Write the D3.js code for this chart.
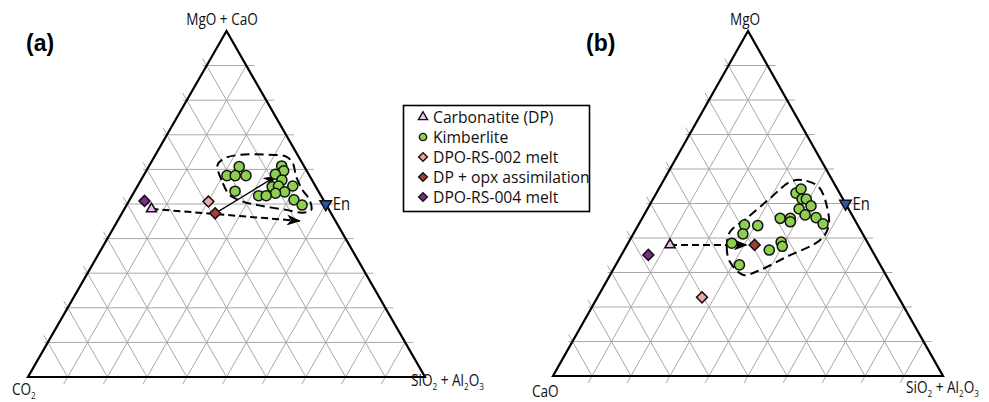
<!DOCTYPE html>
<html lang="en">
<head>
<meta charset="UTF-8">
<title>Ternary plots</title>
<style>
  body { margin: 0; background: #fff; }
  svg { display: block; font-family: "Open Sans", sans-serif; }
</style>
</head>
<body>
<div id="chart"></div>
<script src="https://d3js.org/d3.v7.min.js"></script>
<script>
const width = 989, height = 402;

// all compositions in percent, ordered [top, left, right]
// (a): top = MgO + CaO, left = CO2, right = SiO2 + Al2O3
const kimberliteA = [
  [60.8, 16.4, 22.8], [58.2, 20.8, 21.0], [58.2, 18.7, 23.1], [58.2, 16.0, 25.8],
  [53.7, 21.0, 25.3], [61.0, 5.6, 33.4], [59.6, 5.8, 34.6], [58.6, 8.4, 33.0],
  [56.9, 7.6, 35.5], [55.0, 11.0, 34.0], [55.2, 9.3, 35.5], [55.2, 5.7, 39.1],
  [53.5, 8.6, 37.9], [53.1, 11.1, 35.8], [52.4, 15.7, 31.9], [52.4, 13.8, 33.8],
  [51.2, 7.4, 41.4], [49.7, 6.1, 44.2]
];
const carbonatiteA = [[48.6, 44.6, 6.8]];
const rs002A = [[50.7, 29.2, 20.1]];
const opxA = [[47.3, 29.2, 23.5]];
const rs004A = [[50.9, 45.2, 3.9]];
const enstatiteA = [[50, 0, 50]];
const envelopeA = [
  [61.3, 21.6, 17.1], [56.0, 22.9, 21.1], [52.6, 22.9, 24.5], [50.7, 20.5, 28.8],
  [49.4, 16.2, 34.4], [48.3, 10.8, 40.9], [47.5, 7.0, 45.5], [48.3, 4.5, 47.2],
  [51.2, 3.5, 45.3], [54.0, 3.8, 42.2], [57.9, 3.5, 38.6], [61.8, 2.4, 35.8],
  [63.7, 3.1, 33.2], [64.2, 7.1, 28.7], [64.2, 14.6, 21.2], [63.2, 18.9, 17.9]
];
const arrowsA = [
  { from: [48.6, 44.6, 6.8], to: [45.1, 9.0, 45.9], dashed: true },
  { from: [47.3, 29.2, 23.5], to: [58.1, 8.4, 33.5], dashed: false }
];

// (b): top = MgO, left = CaO, right = SiO2 + Al2O3
const kimberliteB = [
  [53.0, 11.2, 35.8], [54.2, 9.3, 36.5], [51.3, 10.5, 38.2], [51.3, 9.4, 39.3],
  [49.3, 9.2, 41.5], [48.4, 12.7, 38.9], [46.7, 12.0, 41.3], [45.9, 9.6, 44.5],
  [44.1, 8.7, 47.2], [45.7, 18.9, 35.4], [45.7, 16.3, 38.0], [44.7, 16.8, 38.5],
  [43.8, 29.0, 27.2], [43.6, 25.7, 30.7], [41.2, 30.7, 28.1], [38.5, 34.9, 26.6],
  [36.5, 26.3, 37.2], [38.8, 22.1, 39.1], [37.6, 22.4, 40.0], [32.2, 36.1, 31.7]
];
const carbonatiteB = [[38.0, 51.0, 11.0]];
const rs002B = [[22.8, 50.4, 26.8]];
const opxB = [[38.0, 29.3, 32.7]];
const rs004B = [[35.1, 58.0, 6.9]];
const enstatiteB = [[50, 0, 50]];
const envelopeB = [
  [41.8, 33.7, 24.5], [37.5, 36.7, 25.8], [33.1, 38.1, 28.8], [29.3, 36.5, 34.2],
  [30.7, 31.6, 37.7], [34.6, 22.7, 42.7], [39.4, 11.8, 48.8], [43.3, 7.7, 49.0],
  [49.1, 5.2, 45.7], [54.9, 4.5, 40.6], [56.8, 7.8, 35.4], [56.3, 11.0, 32.7],
  [51.5, 18.6, 29.9], [45.7, 27.5, 26.8]
];
const arrowsB = [
  { from: [38.0, 51.0, 11.0], to: [38.0, 31.3, 30.7], dashed: true }
];

const legendNames = ["Carbonatite (DP)", "Kimberlite", "DPO-RS-002 melt", "DP + opx assimilation", "DPO-RS-004 melt"];
const gridTicks = d3.range(10, 100, 10);

const colors = {
  carb: "#efbdf0", kimb: "#8dd04f", rs002: "#f4a4a0", opx: "#a23f3a", rs004: "#7d2a8b", en: "#2b54ad"
};

const svg = d3.select("#chart")
  .append("svg")
  .attr("width", width)
  .attr("height", height)
  .attr("viewBox", [0, 0, width, height]);

const defs = svg.append("defs");
defs.append("marker")
  .attr("id", "head")
  .attr("viewBox", "0 0 14 11")
  .attr("refX", 13)
  .attr("refY", 5.5)
  .attr("markerWidth", 14)
  .attr("markerHeight", 11)
  .attr("markerUnits", "userSpaceOnUse")
  .attr("orient", "auto")
  .append("path")
  .attr("d", "M0,0L14,5.5L0,11L4,5.5Z")
  .attr("fill", "#000");

const sym = {
  circle: d3.symbol(d3.symbolCircle, 80)(),
  diamond: d3.symbol(d3.symbolSquare, 60)(),
  tri: d3.symbol(d3.symbolTriangle, 44)(),
  en: d3.symbol(d3.symbolTriangle, 58)(),
};

function makeProjection(frame) {
  const x = d3.scaleLinear().domain([0, 100]).range([frame.x0, frame.x1]);
  const y = d3.scaleLinear().domain([0, 100]).range([frame.base, frame.apex]);
  return d => [x(d[2] + d[0] / 2), y(d[0])];
}

// pushes a segment out by e0 px at its start and e1 px at its end
function extend(a, b, e0, e1) {
  const dx = b[0] - a[0], dy = b[1] - a[1];
  const len = Math.hypot(dx, dy);
  const ux = dx / len, uy = dy / len;
  return [[a[0] - ux * e0, a[1] - uy * e0], [b[0] + ux * e1, b[1] + uy * e1]];
}

// axis label, odd parts are subscripts; squeezed a bit to look like a condensed face
function richText(g, x, y, parts, size, anchor) {
  const t = g.append("g")
    .attr("transform", `translate(${x},${y}) scale(0.85,1)`)
    .append("text")
    .attr("font-size", size)
    .attr("text-anchor", anchor || "start")
    .attr("fill", "#111");
  parts.forEach((s, i) => {
    if (!s) return;
    const sub = i % 2 === 1;
    t.append("tspan")
      .attr("font-size", sub ? size * 0.6 : size)
      .attr("dy", i === 0 ? 0 : (sub ? 4 : -4))
      .text(s);
  });
  return t;
}

function drawPoints(g, p, data, shape, fill, rotate) {
  g.append("g")
    .selectAll("path")
    .data(data)
    .join("path")
    .attr("d", sym[shape])
    .attr("transform", d => `translate(${p(d)}) rotate(${rotate || 0})`)
    .attr("fill", fill)
    .attr("stroke", "#111")
    .attr("stroke-width", 1.5);
}

function drawTernary(frame, set) {
  const p = makeProjection(frame);
  const g = svg.append("g");
  const line = d3.line();

  // grid
  const grid = [];
  gridTicks.forEach(k => {
    grid.push(extend(p([k, 100 - k, 0]), p([k, 0, 100 - k]), 4, 8));
    grid.push(extend(p([100 - k, k, 0]), p([0, k, 100 - k]), 8, 0));
    grid.push(extend(p([100 - k, 0, k]), p([0, 100 - k, k]), 0, 8));
  });
  g.append("g")
    .attr("stroke", "#a8a8a8")
    .attr("stroke-width", 1)
    .selectAll("path")
    .data(grid)
    .join("path")
    .attr("d", line);

  // outline
  g.append("path")
    .attr("d", line([p([100, 0, 0]), p([0, 100, 0]), p([0, 0, 100])]) + "Z")
    .attr("fill", "none")
    .attr("stroke", "#000")
    .attr("stroke-width", 2.2)
    .attr("stroke-linejoin", "miter");

  // kimberlite field
  g.append("path")
    .attr("d", d3.line().curve(d3.curveCatmullRomClosed.alpha(0.5))(set.envelope.map(p)))
    .attr("fill", "none")
    .attr("stroke", "#000")
    .attr("stroke-width", 2)
    .attr("stroke-dasharray", "9,5");

  // arrows
  g.append("g")
    .selectAll("path")
    .data(set.arrows)
    .join("path")
    .attr("d", d => line([p(d.from), p(d.to)]))
    .attr("fill", "none")
    .attr("stroke", "#000")
    .attr("stroke-width", d => d.dashed ? 2 : 1.3)
    .attr("stroke-dasharray", d => d.dashed ? "7,4" : null)
    .attr("marker-end", "url(#head)");

  drawPoints(g, p, set.kimb, "circle", colors.kimb);
  drawPoints(g, p, set.rs004, "diamond", colors.rs004, 45);
  drawPoints(g, p, set.rs002, "diamond", colors.rs002, 45);
  drawPoints(g, p, set.opx, "diamond", colors.opx, 45);
  drawPoints(g, p, set.carb, "tri", colors.carb);
  drawPoints(g, p, set.en, "en", colors.en, 180);

  const en = p(set.en[0]);
  richText(g, en[0] + 7, en[1] + 6, ["En"], 17.5);

  return g;
}

const gA = drawTernary({ x0: 28, x1: 425, base: 377, apex: 31 }, {
  kimb: kimberliteA, carb: carbonatiteA, rs002: rs002A, opx: opxA, rs004: rs004A,
  en: enstatiteA, envelope: envelopeA, arrows: arrowsA
});
richText(gA, 222, 25, ["MgO + CaO"], 16, "middle");
richText(gA, 12, 395, ["CO", "2"], 16);
richText(gA, 411, 386, ["SiO", "2", " + Al", "2", "O", "3"], 16);
gA.append("text").attr("x", 26).attr("y", 51)
  .attr("font-family", "Liberation Sans, Arial, sans-serif")
  .attr("font-weight", "bold").attr("font-size", 23).text("(a)");

const gB = drawTernary({ x0: 553, x1: 943, base: 376, apex: 31 }, {
  kimb: kimberliteB, carb: carbonatiteB, rs002: rs002B, opx: opxB, rs004: rs004B,
  en: enstatiteB, envelope: envelopeB, arrows: arrowsB
});
richText(gB, 745, 25, ["MgO"], 16, "middle");
richText(gB, 532, 397, ["CaO"], 16);
richText(gB, 906, 393, ["SiO", "2", " + Al", "2", "O", "3"], 16);
gB.append("text").attr("x", 586).attr("y", 51)
  .attr("font-family", "Liberation Sans, Arial, sans-serif")
  .attr("font-weight", "bold").attr("font-size", 23).text("(b)");

// legend
const legend = svg.append("g");
legend.append("rect")
  .attr("x", 403.5).attr("y", 105.5)
  .attr("width", 186).attr("height", 106)
  .attr("fill", "#fff")
  .attr("stroke", "#000")
  .attr("stroke-width", 1.6);

const legendShapes = [["tri", colors.carb, 0], ["circle", colors.kimb, 0], ["diamond", colors.rs002, 45],
  ["diamond", colors.opx, 45], ["diamond", colors.rs004, 45]];
const rowY = d3.scalePoint().domain(legendNames).range([117, 197]);

legend.selectAll("path")
  .data(legendNames)
  .join("path")
  .attr("d", (d, i) => d3.symbol(
      legendShapes[i][0] === "tri" ? d3.symbolTriangle : legendShapes[i][0] === "circle" ? d3.symbolCircle : d3.symbolSquare,
      legendShapes[i][0] === "circle" ? 42 : legendShapes[i][0] === "tri" ? 36 : 38)())
  .attr("transform", (d, i) => `translate(423,${rowY(d)}) rotate(${legendShapes[i][2]})`)
  .attr("fill", (d, i) => legendShapes[i][1])
  .attr("stroke", "#111")
  .attr("stroke-width", 1.4);

legend.selectAll("text")
  .data(legendNames)
  .join("text")
  .attr("x", 433)
  .attr("y", d => rowY(d) + 5.6)
  .attr("font-size", 15.7)
  .attr("fill", "#111")
  .text(d => d);
</script>
</body>
</html>
